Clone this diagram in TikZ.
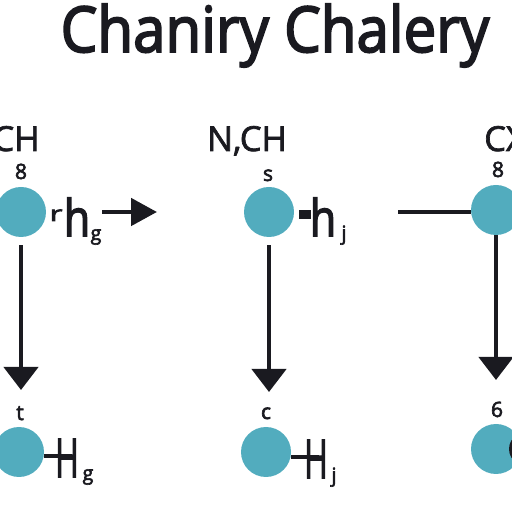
\documentclass[tikz,border=0pt]{standalone}
\usepackage{fontspec}
\setmainfont{Open Sans}
\newfontfamily\heavyfont[FakeBold=3]{Open Sans}
\newfontfamily\mediumfont[FakeBold=2]{Open Sans}
\usepackage{xcolor}
\usetikzlibrary{arrows.meta,positioning,shapes.geometric}
\definecolor{AtomTeal}{HTML}{52ACBE}
\definecolor{InkBlack}{HTML}{1A1A20}
\tikzset{
  atom/.style={circle,fill=AtomTeal,draw=none,minimum size=25mm,inner sep=0pt},
  bondarrow/.style={-{Triangle[length=11.5mm,width=17mm]},line width=2.2mm,draw=InkBlack},
  flowarrow/.style={-{Triangle[length=13mm,width=13.5mm]},line width=2.4mm,draw=InkBlack},
  bondline/.style={line width=2.2mm,draw=InkBlack},
  toplabel/.style={anchor=base,text=InkBlack,font=\mediumfont\fontsize{49}{49}\selectfont,inner sep=0pt},
  marklabel/.style={anchor=base,text=InkBlack,font=\heavyfont\fontsize{30}{30}\selectfont,inner sep=0pt},
  sidelabel/.style={anchor=base,text=InkBlack,xscale=0.85,font=\heavyfont\fontsize{72}{72}\selectfont,inner sep=0pt},
  barlabel/.style={anchor=base,text=InkBlack,xscale=0.6,font=\heavyfont\fontsize{76}{76}\selectfont,inner sep=0pt},
  sublabel/.style={anchor=base,text=InkBlack,font=\heavyfont\fontsize{28}{28}\selectfont,inner sep=0pt}
}
\begin{document}
\begin{tikzpicture}[x=0.5mm,y=0.5mm]
  \useasboundingbox (0,0) rectangle (512,512);

  % Title.
  \node[anchor=base,text=InkBlack,xscale=0.92,font=\heavyfont\fontsize{90}{90}\selectfont,inner sep=0pt] (title) at (275,460) {Chaniry Chalery};

  % Top row.
  \node[atom] (leftTop) at (21,300) {};
  \node[atom] (midTop) at (269,300) {};
  \node[atom] (rightTop) at (496,302) {};
  \node[toplabel] (leftFormula) at (16,361) {CH};
  \node[toplabel] (midFormula) at (247,361) {N,CH};
  \node[toplabel] (rightFormula) at (505,361) {CX};
  \node[marklabel] (leftMark) at (21,333) {8};
  \node[marklabel] (midMark) at (268,331) {s};
  \node[marklabel] (rightMark) at (498,335) {8};
  \node[marklabel,xscale=1.5] (leftStub) at (56,291) {r};
  \node[fill=InkBlack,minimum width=6mm,minimum height=4.5mm,inner sep=0pt] (midStub) at (305,297) {};
  \node[sidelabel] (leftSide) at (77,276) {h};
  \node[sublabel] (leftSub) at (96,272) {g};
  \node[sidelabel] (midSide) at (323,276) {h};
  \node[sublabel] (midSub) at (344,272) {j};

  % Bottom row.
  \node[atom] (leftBottom) at (19,60) {};
  \node[atom] (midBottom) at (266,60) {};
  \node[atom] (rightBottom) at (496,63) {};
  \node[marklabel] (leftLower) at (20,92) {t};
  \node[marklabel] (midLower) at (266,93) {c};
  \node[marklabel] (rightLower) at (497,95) {6};
  \node[barlabel] (leftH) at (67,35) {H};
  \node[sublabel] (leftGee) at (88,32) {g};
  \node[barlabel] (midH) at (316,34) {H};
  \node[sublabel] (midJay) at (334,30) {j};
  \node[fill=InkBlack,ellipse,minimum width=8mm,minimum height=12mm,inner sep=0pt] (rightDark) at (517,63) {};

  % Bonds and arrows.
  \coordinate (flowStart) at (102,300);
  \coordinate (flowEnd) at (157,300);
  \coordinate (leadStart) at (398,300);
  \draw[flowarrow] (flowStart) -- (flowEnd);
  \draw[bondline] (leadStart) -- (rightTop.west |- leadStart);
  \draw[bondline] (leftBottom.east |- 0,56) -- (72,56);
  \draw[bondline] (midBottom.east |- 0,55) -- (319,55);
  \draw[bondarrow,shorten <=4mm] (leftTop.south) -- (leftTop.south |- 0,122);
  \draw[bondarrow,shorten <=4mm] (midTop.south) -- (midTop.south |- 0,120);
  \draw[bondarrow] (rightTop.south) -- (rightTop.south |- 0,132);
\end{tikzpicture}
\end{document}
